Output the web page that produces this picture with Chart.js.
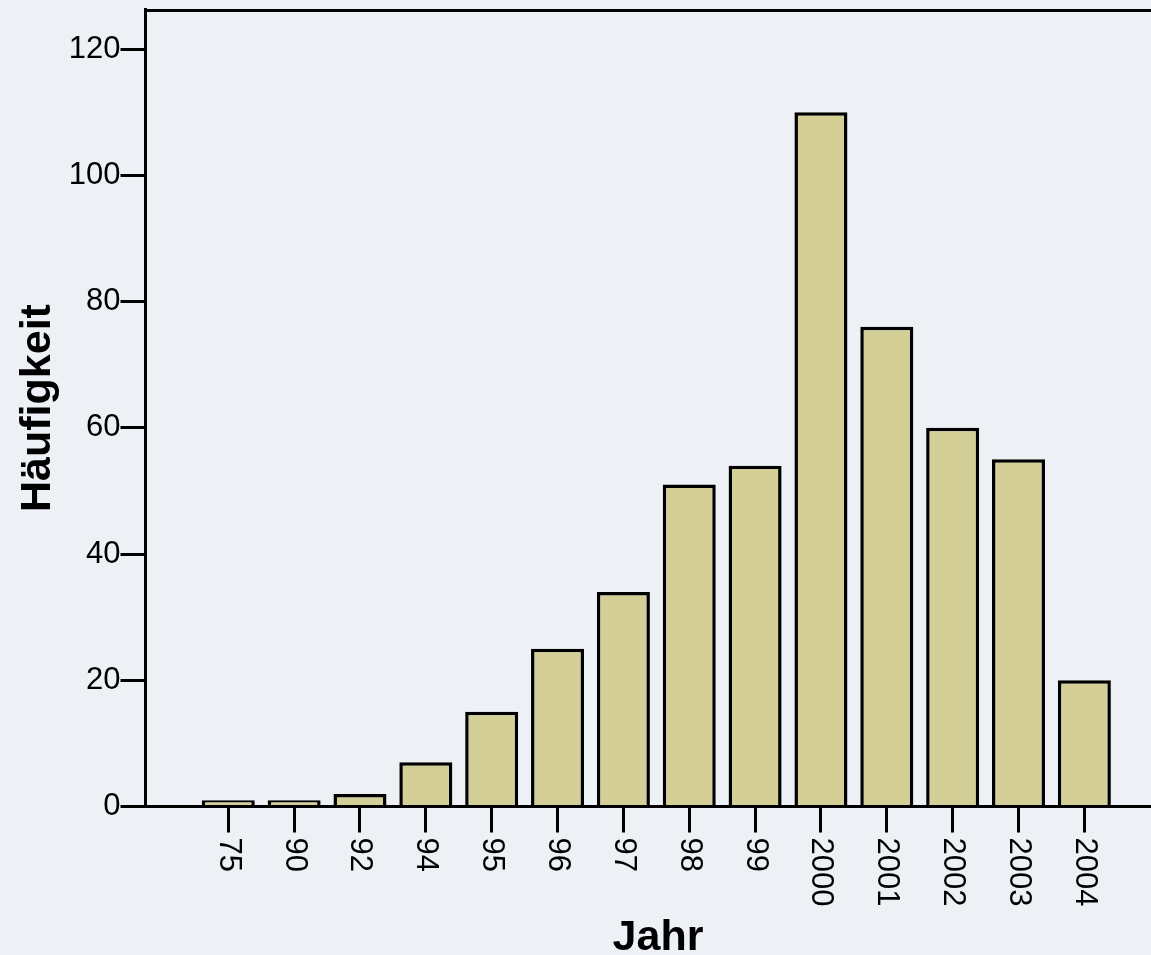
<!DOCTYPE html>
<html>
<head>
<meta charset="utf-8">
<script src="https://cdn.jsdelivr.net/npm/chart.js@4.4.1/dist/chart.umd.min.js"></script>
<style>
  html, body { margin: 0; padding: 0; background: #edf0f5; }
  #wrap { width: 1151px; height: 955px; position: relative; }
</style>
</head>
<body>
<div id="wrap"><canvas id="c"></canvas></div>
<script>
const categories = ['75', '90', '92', '94', '95', '96', '97', '98', '99', '2000', '2001', '2002', '2003', '2004'];
const frequencies = [1, 1, 2, 7, 15, 25, 34, 51, 54, 110, 76, 60, 55, 20];
const yTickValues = [0, 20, 40, 60, 80, 100, 120];
const xTitle = 'Jahr';
const yTitle = 'Häufigkeit';

const FONT = '"Liberation Sans", Arial, Helvetica, sans-serif';

const bgPlugin = {
  id: 'bg',
  beforeDraw(chart) {
    const ctx = chart.ctx;
    ctx.save();
    ctx.fillStyle = '#edf0f5';
    ctx.fillRect(0, 0, chart.width, chart.height);
    ctx.restore();
  }
};

const framePlugin = {
  id: 'frame',
  afterDraw(chart) {
    const ctx = chart.ctx;
    const a = chart.chartArea;
    ctx.save();
    ctx.strokeStyle = '#000';
    ctx.lineWidth = 3;
    ctx.beginPath();
    ctx.moveTo(a.left - 1.5, Math.round(a.top) + 0.5);
    ctx.lineTo(chart.width + 5, Math.round(a.top) + 0.5);
    ctx.stroke();
    // rotated x tick labels (reading top-to-bottom)
    const xs = chart.scales.x;
    ctx.fillStyle = '#000';
    ctx.font = '31px ' + FONT;
    ctx.textAlign = 'left';
    ctx.textBaseline = 'middle';
    categories.forEach((lab, i) => {
      const px = xs.getPixelForValue(i);
      ctx.save();
      ctx.translate(px, a.bottom + 31);
      ctx.rotate(Math.PI / 2);
      ctx.fillText(lab, 0, 0);
      ctx.restore();
    });
    // x axis title
    ctx.font = 'bold 43px ' + FONT;
    ctx.textAlign = 'center';
    ctx.textBaseline = 'alphabetic';
    ctx.fillText(xTitle, 658, 950);
    ctx.restore();
  }
};

new Chart(document.getElementById('c'), {
  type: 'bar',
  data: {
    datasets: [{
      data: categories.map((c, i) => ({ x: i, y: frequencies[i] })),
      backgroundColor: '#d3cf97',
      borderColor: '#000000',
      borderWidth: 3.5,
      borderSkipped: 'start',
      barPercentage: 0.805,
      categoryPercentage: 1.0
    }]
  },
  options: {
    responsive: true,
    maintainAspectRatio: false,
    animation: false,
    layout: { padding: { top: 9.5, right: 0, bottom: 0, left: 0 } },
    plugins: { legend: { display: false }, tooltip: { enabled: false } },
    scales: {
      x: {
        type: 'linear',
        offset: false,
        min: -1.257,
        max: 14.012,
        z: 1,
        afterBuildTicks: (s) => { s.ticks = categories.map((c, i) => ({ value: i })); },
        afterFit: (s) => { s.height = 148.5; s.paddingLeft = 0; s.paddingRight = 0; },
        ticks: { display: false },
        grid: { display: true, offset: false, drawOnChartArea: false, drawTicks: true, tickLength: 26, color: '#000', lineWidth: 3 },
        border: { display: true, color: '#000', width: 3 },
        title: { display: false }
      },
      y: {
        type: 'linear',
        min: 0,
        max: 126.26,
        afterBuildTicks: (s) => { s.ticks = yTickValues.map(v => ({ value: v })); },
        afterFit: (s) => { s.width = 145.5; s.paddingTop = 0; s.paddingBottom = 0; },
        ticks: { color: '#000', font: { family: FONT, size: 31 }, padding: 0 },
        grid: { display: true, drawOnChartArea: false, drawTicks: true, tickLength: 25, color: '#000', lineWidth: 3 },
        border: { display: true, color: '#000', width: 3 },
        title: {
          display: true, text: yTitle, color: '#000',
          font: { family: FONT, size: 43, weight: 'bold', lineHeight: 1 },
          padding: { top: 17, bottom: 0 }
        }
      }
    }
  },
  plugins: [bgPlugin, framePlugin]
});
</script>
</body>
</html>
